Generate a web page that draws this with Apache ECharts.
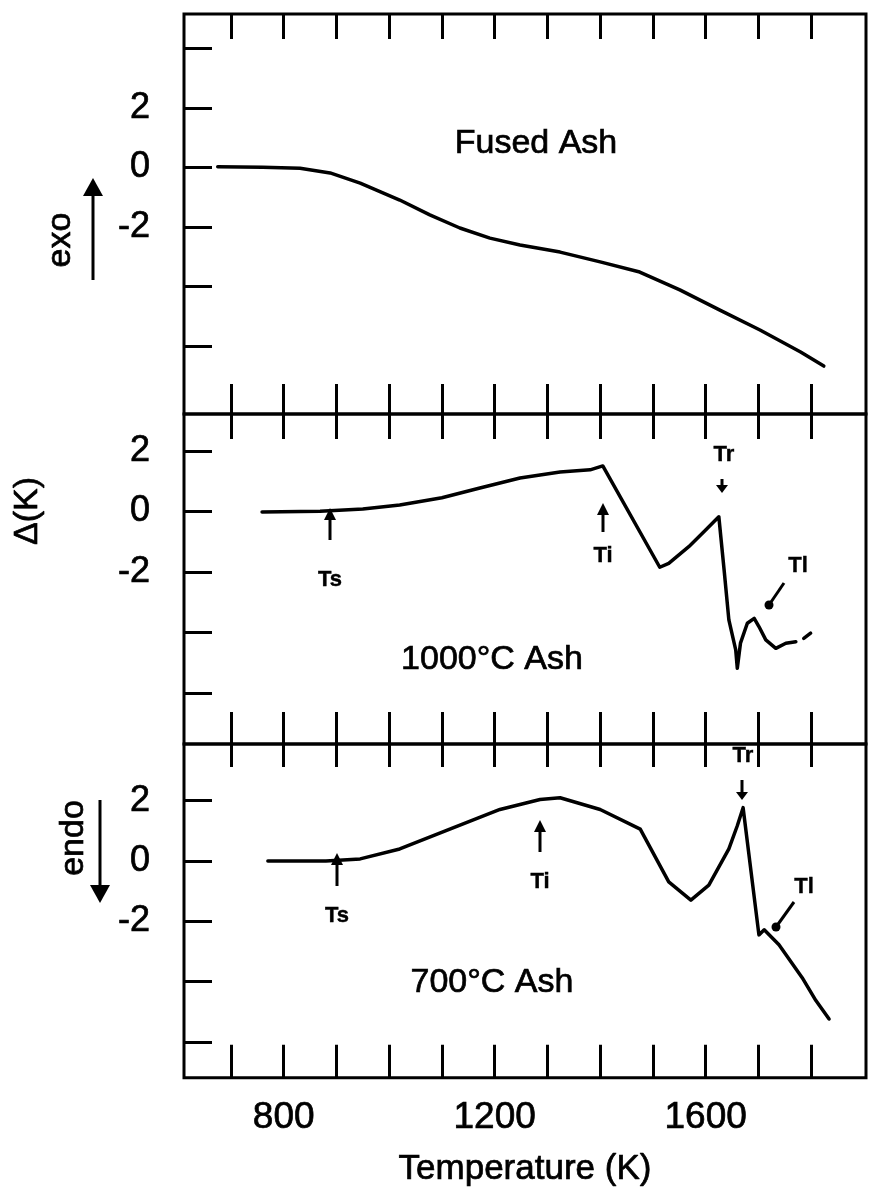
<!DOCTYPE html>
<html><head><meta charset="utf-8">
<script src="https://cdn.jsdelivr.net/npm/echarts@6/dist/echarts.min.js"></script>
<style>html,body{margin:0;padding:0;background:#fff}#c{width:869px;height:1188px}</style>
</head><body><div id="c"></div>
<script>
// ---- data ----
const xTickValues = [700, 800, 900, 1000, 1100, 1200, 1300, 1400, 1500, 1600, 1700, 1800];
const xLabelValues = [800, 1200, 1600];
const yTicksTop = [4, 2, 0, -2, -4, -6];
const yTicks = [2, 0, -2, -4, -6];
const yLabelValues = [2, 0, -2];

const fusedT = [675, 760, 831, 888, 945, 1020, 1077, 1134, 1191, 1248, 1324, 1400, 1475, 1551, 1627, 1703, 1780, 1824];
const fusedV = [0.02, 0.0, -0.03, -0.19, -0.53, -1.10, -1.60, -2.04, -2.38, -2.61, -2.85, -3.18, -3.52, -4.12, -4.80, -5.47, -6.21, -6.68];

const ash1000T = [759, 869, 950, 1020, 1100, 1172, 1248, 1324, 1381, 1405, 1513, 1530, 1568, 1600, 1616, 1625, 1635, 1644, 1657, 1660, 1666, 1679, 1692, 1701, 1714, 1733, 1752, 1771, 1779, 1786, 1799];
const ash1000V = [-0.02, 0.0, 0.08, 0.21, 0.45, 0.77, 1.1, 1.3, 1.37, 1.5, -1.85, -1.72, -1.17, -0.62, -0.34, -0.18, -1.94, -3.59, -4.58, -5.19, -4.36, -3.70, -3.54, -3.81, -4.25, -4.53, -4.36, -4.31, null, -4.2, -4.03];

const ash700T = [770, 880, 945, 1020, 1115, 1210, 1286, 1324, 1400, 1476, 1530, 1572, 1606, 1644, 1660, 1671, 1701, 1711, 1739, 1783, 1809, 1834];
const ash700V = [0.0, 0.0, 0.07, 0.4, 1.06, 1.71, 2.04, 2.1, 1.71, 1.06, -0.69, -1.30, -0.80, 0.40, 1.17, 1.77, -2.45, -2.28, -2.78, -3.87, -4.63, -5.24];

// ---- layout ----
const FONT = 'Liberation Sans';
const X_MIN = 611, X_MAX = 1904;
const LEFT = 184, RIGHT = 3;
const panels = [
  {top: 14, height: 400, min: -8.292, max: 5.153, ticks: yTicksTop, tickTopLen: 25, tickBotLen: 30},
  {top: 414, height: 330, min: -7.693, max: 3.217, ticks: yTicks, tickTopLen: 25, tickBotLen: 32},
  {top: 744, height: 337, min: -7.186, max: 3.882, ticks: yTicks, tickTopLen: 23, tickBotLen: 33}
];

function pairs(T, V) { return T.map((t, i) => [t, V[i] === null ? '-' : V[i]]); }

const grids = panels.map(p => ({left: LEFT, right: RIGHT, top: p.top, height: p.height, show: true, borderColor: '#000', borderWidth: 3, containLabel: false}));

const xAxes = [];
panels.forEach((p, i) => {
  ['top', 'bottom'].forEach(pos => {
    const isLast = (i === 2 && pos === 'bottom');
    xAxes.push({
      type: 'value', gridIndex: i, position: pos, min: X_MIN, max: X_MAX,
      axisLine: {show: false, onZero: false}, splitLine: {show: false},
      axisTick: {show: true, inside: true, length: pos === 'top' ? p.tickTopLen : p.tickBotLen,
        lineStyle: {color: '#000', width: 3}, customValues: xTickValues},
      axisLabel: isLast ? {show: true, customValues: xLabelValues, margin: 22, fontSize: 37,
        fontFamily: FONT, color: '#000', textBorderColor: '#000', textBorderWidth: 0.7,
        formatter: v => String(v)} : {show: false},
      name: isLast ? 'Temperature (K)' : '', nameLocation: 'middle', nameGap: 74,
      nameTextStyle: {fontSize: 35, fontFamily: FONT, color: '#000', textBorderColor: '#000', textBorderWidth: 0.7}
    });
  });
});

const yAxes = panels.map((p, i) => ({
  type: 'value', gridIndex: i, min: p.min, max: p.max, position: 'left',
  axisLine: {show: false, onZero: false}, splitLine: {show: false},
  axisTick: {show: true, inside: true, length: 28, lineStyle: {color: '#000', width: 3}, customValues: p.ticks},
  axisLabel: {show: true, customValues: yLabelValues, margin: 34, fontSize: 36, fontFamily: FONT, color: '#000',
    textBorderColor: '#000', textBorderWidth: 0.7,
    formatter: v => (v < 0 ? '-' + Math.abs(v) : String(v))}
}));

function mkSeries(T, V, idx) {
  return {type: 'line', xAxisIndex: idx * 2 + 1, yAxisIndex: idx, data: pairs(T, V),
    showSymbol: false, symbol: 'none', connectNulls: false, smooth: false,
    lineStyle: {color: '#000', width: 3.5, join: 'round', cap: 'round'}, silent: true};
}

// ---- annotations (pixel graphics) ----
function txt(x, y, s, size, rot, bold) {
  return {type: 'text', x: x, y: y, rotation: rot || 0,
    style: {text: s, fontSize: size, fontFamily: FONT, fontWeight: bold ? 'bold' : 'normal', fill: '#000',
      stroke: '#000', lineWidth: bold ? 0.4 : 0.7, align: 'center', verticalAlign: 'middle'}};
}
function arrow(x, yTail, yHead, hw, hl, w) {
  const dir = yHead < yTail ? -1 : 1;
  return [
    {type: 'line', shape: {x1: x, y1: yTail, x2: x, y2: yHead - dir * hl * 0.6}, style: {stroke: '#000', lineWidth: w}},
    {type: 'polygon', shape: {points: [[x, yHead], [x - hw, yHead - dir * hl], [x + hw, yHead - dir * hl]]}, style: {fill: '#000'}}
  ];
}
function leader(x1, y1, x2, y2) {
  return [
    {type: 'line', shape: {x1: x1, y1: y1, x2: x2, y2: y2}, style: {stroke: '#000', lineWidth: 3}},
    {type: 'circle', shape: {cx: x2, cy: y2, r: 4.5}, style: {fill: '#000'}}
  ];
}
const graphics = [].concat(
  [txt(61, 240, 'exo', 34, Math.PI / 2)],
  arrow(93, 280, 178, 10, 18, 3),
  [txt(28, 511, '\u0394(K)', 34, Math.PI / 2)],
  [txt(74, 838, 'endo', 34, Math.PI / 2)],
  arrow(100, 800, 903, 10, 18, 3),
  [txt(536, 144, 'Fused Ash', 34)],
  [txt(492, 660, '1000\u00B0C Ash', 34)],
  [txt(492, 983, '700\u00B0C Ash', 34)],
  // panel 2 markers
  arrow(330, 540, 508, 6, 12, 3), [txt(330, 580, 'Ts', 22, 0, true)],
  arrow(603, 532, 503, 6, 12, 3), [txt(603, 556, 'Ti', 22, 0, true)],
  [txt(724, 455, 'Tr', 22, 0, true)], arrow(722, 479, 493, 6, 8, 3),
  [txt(798, 566, 'Tl', 22, 0, true)], leader(784, 583, 769, 605),
  // panel 3 markers
  arrow(337, 886, 853, 6, 12, 3), [txt(337, 916, 'Ts', 22, 0, true)],
  arrow(540, 852, 820, 6, 12, 3), [txt(540, 882, 'Ti', 22, 0, true)],
  [txt(743, 756, 'Tr', 22, 0, true)], arrow(742, 780, 800, 6, 8, 3),
  [txt(804, 887, 'Tl', 22, 0, true)], leader(794, 902, 776, 927)
);

const chart = echarts.init(document.getElementById('c'), null, {renderer: 'canvas'});
chart.setOption({
  animation: false,
  backgroundColor: '#fff',
  grid: grids,
  xAxis: xAxes,
  yAxis: yAxes,
  series: [mkSeries(fusedT, fusedV, 0), mkSeries(ash1000T, ash1000V, 1), mkSeries(ash700T, ash700V, 2)],
  graphic: graphics
});
</script></body></html>
